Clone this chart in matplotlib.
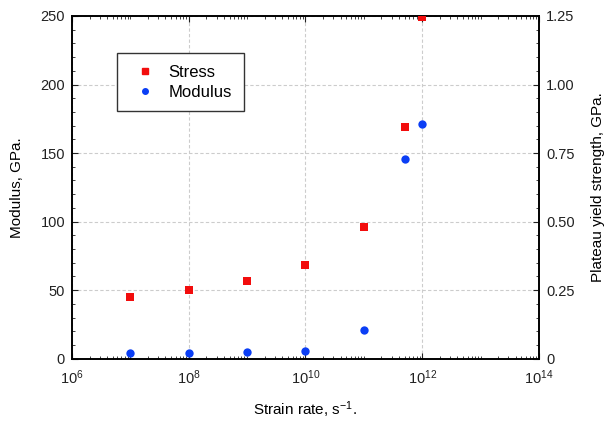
import matplotlib
matplotlib.use('Agg')
import matplotlib.pyplot as plt
from matplotlib.ticker import LogLocator, FixedLocator, MultipleLocator, NullFormatter
from matplotlib.lines import Line2D

plt.rcParams['font.family'] = ['Liberation Sans', 'DejaVu Sans']
plt.rcParams['font.size'] = 10.5
plt.rcParams['mathtext.fontset'] = 'custom'
plt.rcParams['mathtext.rm'] = 'Liberation Sans'
plt.rcParams['mathtext.it'] = 'Liberation Sans:italic'
plt.rcParams['mathtext.bf'] = 'Liberation Sans:bold'

# strain rates, s^-1
rate = [1e7, 1e8, 1e9, 1e10, 1e11, 5e11, 1e12]
# modulus, GPa (left axis)
modulus = [4.5, 4.5, 5.0, 5.5, 21.0, 146.0, 171.0]
# plateau yield strength, GPa (right axis)
stress = [0.225, 0.252, 0.285, 0.342, 0.480, 0.846, 1.245]

xtick_pos = [1e6, 1e8, 1e10, 1e12, 1e14]
xtick_lab = ['$10^{6}$', '$10^{8}$', '$10^{10}$', '$10^{12}$', '$10^{14}$']
y2tick_pos = [0, 0.25, 0.5, 0.75, 1.0, 1.25]
y2tick_lab = ['0', '0.25', '0.50', '0.75', '1.00', '1.25']

red = '#f20d0d'
blue = '#0b3ef5'

fig = plt.figure(figsize=(6.08, 4.21), dpi=100)
ax = fig.add_axes([0.1184, 0.148, 0.768, 0.814])
ax2 = ax.twinx()

ax.scatter(rate, modulus, s=36, marker='o', color=blue, zorder=3, linewidths=0)
ax2.scatter(rate, stress, s=34, marker='s', color=red, zorder=3, linewidths=0)

ax.set_xscale('log')
ax.set_xlim(1e6, 1e14)
ax.set_ylim(0, 250)
ax2.set_ylim(0, 1.25)

ax.xaxis.set_major_locator(FixedLocator(xtick_pos))
ax.xaxis.set_minor_locator(LogLocator(base=10, subs=range(1, 10), numticks=30))
ax.xaxis.set_minor_formatter(NullFormatter())
ax.set_xticklabels(xtick_lab)

ax.yaxis.set_major_locator(MultipleLocator(50))
ax.yaxis.set_minor_locator(MultipleLocator(10))
ax2.set_yticks(y2tick_pos)
ax2.set_yticklabels(y2tick_lab)
ax2.yaxis.set_minor_locator(MultipleLocator(0.05))

for a in (ax, ax2):
    a.tick_params(which='both', direction='in', color='#222222', labelcolor='#222222')
    a.tick_params(which='major', length=4, pad=5)
    a.tick_params(which='minor', length=2.5)
    for sp in a.spines.values():
        sp.set_linewidth(1.2)
ax.tick_params(which='both', top=True, right=False)
ax.tick_params(axis='x', which='major', pad=7)

ax.grid(True, which='major', linestyle=(0, (3, 2)), color='#cccccc', linewidth=0.8)
ax.set_axisbelow(True)

ax.set_ylabel('Modulus, GPa.', labelpad=12, fontsize=11)
ax2.set_ylabel('Plateau yield strength, GPa.', labelpad=12, fontsize=11)
ax.set_xlabel('Strain rate, s$^{-1}$.', labelpad=9, fontsize=11)

handles = [
    Line2D([], [], marker='s', linestyle='none', color=red, markersize=4),
    Line2D([], [], marker='o', linestyle='none', color=blue, markersize=4),
]
leg = ax2.legend(handles, ['Stress', 'Modulus'], loc='upper left',
                 bbox_to_anchor=(0.0964, 0.892), borderaxespad=0,
                 fancybox=False, framealpha=1, edgecolor='#333333',
                 borderpad=0.7, handlelength=2.0, handletextpad=0.4,
                 labelspacing=0.3, fontsize=12)
leg.get_frame().set_linewidth(1.0)

fig.savefig('out.png', dpi=100)
